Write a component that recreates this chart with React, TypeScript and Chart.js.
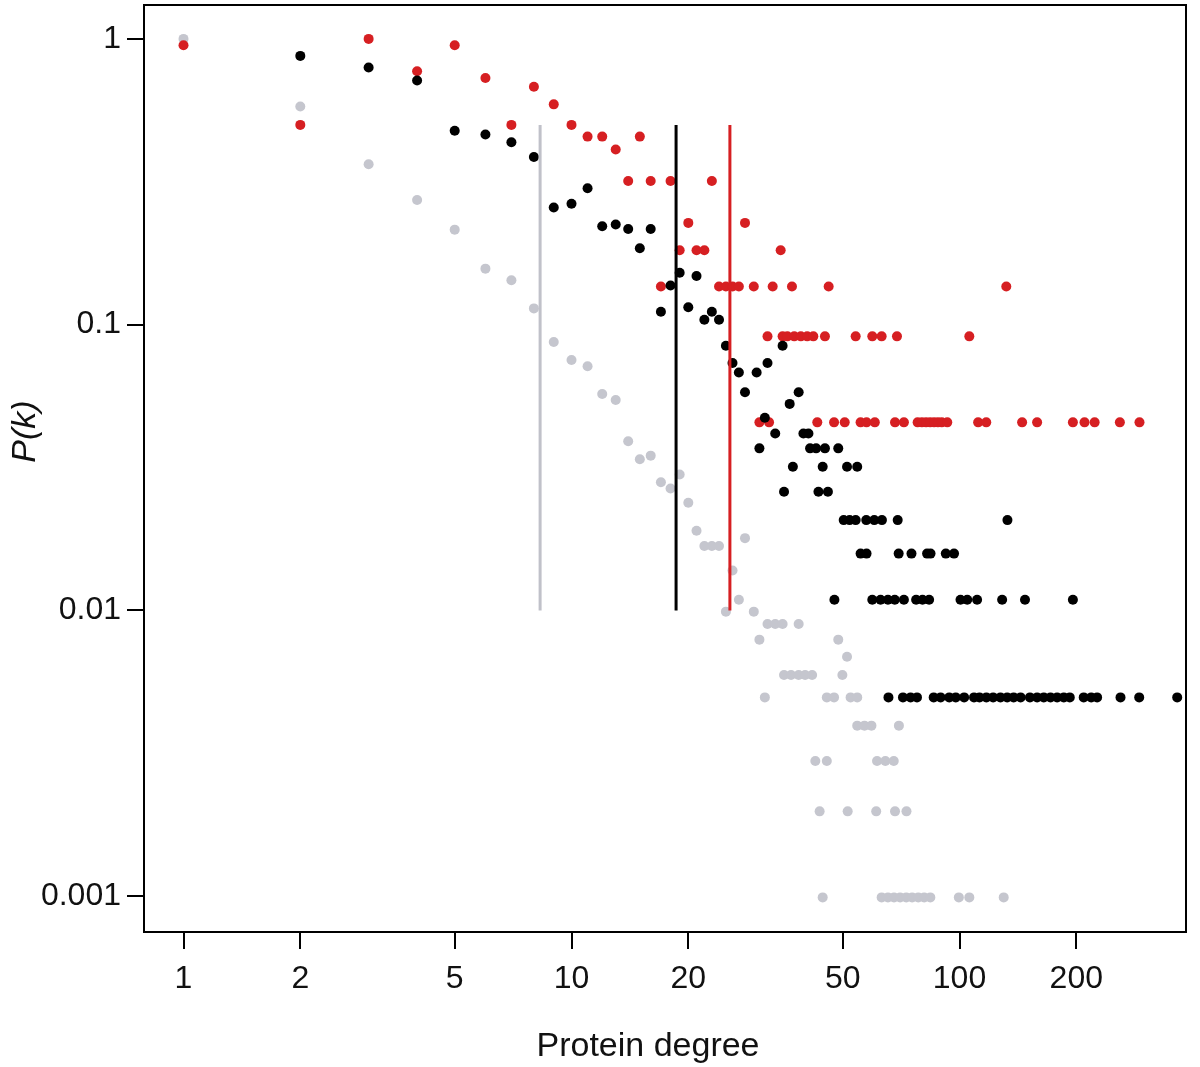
import React, { useEffect, useRef } from "react";
import { Chart, registerables } from "chart.js";

Chart.register(...registerables);

// Axis tick values
const xTickValues = [1, 2, 5, 10, 20, 50, 100, 200];
const yTickValues = [0.001, 0.01, 0.1, 1];

// Gray series: [protein degree k, P(k)]
const grayData: [number, number][] = [
  [1, 1.0], [2, 0.58], [3, 0.364], [4, 0.273], [5, 0.215], [6, 0.157], [7, 0.143],
  [8, 0.114], [9, 0.087], [10, 0.0752], [11, 0.0715], [12, 0.0572], [13, 0.0545],
  [14, 0.0391], [15, 0.0338], [16, 0.0348], [17, 0.0281], [18, 0.0267], [19, 0.0299],
  [20, 0.0238], [21, 0.019], [22, 0.0168], [23, 0.0168], [24, 0.0168], [25, 0.0099],
  [26, 0.0138], [27, 0.0109], [28, 0.0179], [29.5, 0.0099], [30.5, 0.0079],
  [32, 0.00896], [33.5, 0.00896], [35, 0.00896], [38.5, 0.00896],
  [48.7, 0.0079], [51.3, 0.00688],
  [35.3, 0.00594], [36.8, 0.00594], [38.5, 0.00594], [40, 0.00594], [41.7, 0.00594], [49.9, 0.00594],
  [31.5, 0.00496], [45.5, 0.00496], [47.5, 0.00496], [52.4, 0.00496], [54.5, 0.00496],
  [54.5, 0.00395], [56.9, 0.00395], [59.3, 0.00395], [69.8, 0.00395],
  [42.5, 0.00297], [45.5, 0.00297], [61.3, 0.00297], [64.4, 0.00297], [67.7, 0.00297],
  [43.6, 0.00198], [51.5, 0.00198], [61, 0.00198], [68.2, 0.00198], [73, 0.00198],
  [44.4, 0.00099], [63, 0.00099], [65.4, 0.00099], [67.8, 0.00099], [70.3, 0.00099],
  [72.9, 0.00099], [75.5, 0.00099], [78.3, 0.00099], [81.1, 0.00099], [84.1, 0.00099],
  [99.6, 0.00099], [106, 0.00099], [130, 0.00099],
];

// Black series: [k, P(k)]
const blackData: [number, number][] = [
  [2, 0.872], [3, 0.794], [4, 0.715], [5, 0.477], [6, 0.463], [7, 0.435], [8, 0.386],
  [9, 0.257], [10, 0.265], [11, 0.3], [12, 0.221], [13, 0.224], [14, 0.216], [15, 0.185],
  [16, 0.216], [17, 0.111], [18, 0.137], [19, 0.152], [20, 0.115], [21, 0.148],
  [22, 0.104], [23, 0.111], [24, 0.104], [25, 0.0843], [26, 0.0734], [27, 0.068],
  [28, 0.058], [30, 0.068], [32, 0.0734], [35, 0.0843],
  [31.5, 0.0472], [33.5, 0.0416], [30.5, 0.0369], [36.5, 0.0528], [38.5, 0.058],
  [39.6, 0.0416], [40.8, 0.0416], [41.2, 0.0369], [42.7, 0.0369], [45, 0.0369], [48.7, 0.0369],
  [37.2, 0.0318], [44.4, 0.0318], [51.3, 0.0318], [54.5, 0.0318],
  [35.3, 0.026], [43.3, 0.026], [45.8, 0.026],
  [50.3, 0.0207], [52.1, 0.0207], [54, 0.0207], [57.5, 0.0207], [60.3, 0.0207],
  [63.1, 0.0207], [69.3, 0.0207], [132.9, 0.0207],
  [55.6, 0.0158], [57.6, 0.0158], [69.7, 0.0158], [75.2, 0.0158], [82.5, 0.0158],
  [84.2, 0.0158], [92.2, 0.0158], [96.8, 0.0158],
  [47.6, 0.0109], [59.6, 0.0109], [62.6, 0.0109], [65.4, 0.0109], [68.1, 0.0109],
  [71.9, 0.0109], [77.3, 0.0109], [80.3, 0.0109], [83.5, 0.0109], [100.6, 0.0109],
  [104.7, 0.0109], [111, 0.0109], [128.8, 0.0109], [147.5, 0.0109], [196, 0.0109],
  [65.6, 0.00496], [71.5, 0.00496], [74.8, 0.00496], [77.7, 0.00496], [85.8, 0.00496],
  [89.4, 0.00496], [94.1, 0.00496], [97.8, 0.00496], [102.8, 0.00496], [109, 0.00496],
  [112.6, 0.00496], [117.3, 0.00496], [122.1, 0.00496], [127.5, 0.00496], [132.7, 0.00496],
  [137.9, 0.00496], [143.7, 0.00496], [151.9, 0.00496], [158.5, 0.00496], [164.9, 0.00496],
  [171.6, 0.00496], [178.5, 0.00496], [185.7, 0.00496], [192.4, 0.00496], [209, 0.00496],
  [218.5, 0.00496], [226.3, 0.00496], [260, 0.00496], [290.5, 0.00496], [364, 0.00496],
];

// Red series: [k, P(k)]
const redData: [number, number][] = [
  [1, 0.95], [2, 0.5], [3, 1.0], [4, 0.77], [5, 0.95], [6, 0.73], [7, 0.5], [8, 0.68],
  [9, 0.59], [10, 0.5], [11, 0.455], [12, 0.455], [13, 0.41], [14, 0.318], [15, 0.455],
  [16, 0.318], [17, 0.136], [18, 0.318], [19, 0.182], [20, 0.227], [21, 0.182],
  [22, 0.182], [23, 0.318], [24, 0.136], [25, 0.136], [26, 0.136], [27, 0.136],
  [28, 0.227], [29.5, 0.136], [33, 0.136], [34.6, 0.182], [37, 0.136], [46, 0.136],
  [132, 0.136],
  [32, 0.091], [35, 0.091], [36, 0.091], [37.5, 0.091], [39, 0.091], [40.5, 0.091],
  [42, 0.091], [45, 0.091], [54, 0.091], [59.6, 0.091], [63, 0.091], [69, 0.091], [106, 0.091],
  [30.5, 0.0455], [32.3, 0.0455], [43, 0.0455], [47.5, 0.0455], [50.6, 0.0455],
  [55.6, 0.0455], [57.6, 0.0455], [60.5, 0.0455], [68.2, 0.0455], [71.9, 0.0455],
  [78, 0.0455], [80, 0.0455], [82, 0.0455], [84, 0.0455], [86, 0.0455], [88, 0.0455],
  [90, 0.0455], [93, 0.0455], [111.7, 0.0455], [117.2, 0.0455], [145, 0.0455],
  [158.5, 0.0455], [196, 0.0455], [210, 0.0455], [223, 0.0455], [259, 0.0455], [291, 0.0455],
];

// Vertical reference lines (mean degree): gray, black, red
const meanLineK = [8.3, 18.6, 25.6];
const meanLineP = [0.5, 0.01];

const FONT = "'Liberation Sans', Arial, Helvetica, sans-serif";
const GRAY = "#c5c6ce";
const RED = "#d61f22";
const BLACK = "#000000";

export default function App() {
  const ref = useRef<HTMLCanvasElement>(null);

  useEffect(() => {
    const canvas = ref.current;
    if (!canvas) return;

    const toPts = (arr: [number, number][]) => arr.map(([k, p]) => ({ x: k, y: p }));
    const linePts = (k: number) => meanLineP.map((p) => ({ x: k, y: p }));

    const pointStyle = (color: string) => ({
      backgroundColor: color,
      borderColor: color,
      borderWidth: 0,
      pointRadius: 5,
      pointHoverRadius: 5,
      showLine: false,
    });
    const lineStyle = (color: string) => ({
      borderColor: color,
      backgroundColor: color,
      borderWidth: 3,
      pointRadius: 0,
      showLine: true,
      fill: false,
    });

    const framePlugin = {
      id: "frameAndTitles",
      afterDatasetsDraw(chart: any) {
        const { ctx, chartArea } = chart;
        ctx.save();
        ctx.strokeStyle = "#000";
        ctx.lineWidth = 2;
        ctx.strokeRect(chartArea.left, chartArea.top, chartArea.right - chartArea.left, chartArea.bottom - chartArea.top);
        ctx.restore();
      },
      afterDraw(chart: any) {
        const { ctx } = chart;
        ctx.save();
        ctx.fillStyle = "#111";
        ctx.font = `34px ${FONT}`;
        ctx.textAlign = "center";
        ctx.textBaseline = "alphabetic";
        ctx.fillText("Protein degree", 648, 1056);
        ctx.translate(35, 431.5);
        ctx.rotate(-Math.PI / 2);
        ctx.font = `italic 34px ${FONT}`;
        ctx.fillText("P(k)", 0, 0);
        ctx.restore();
      },
    };

    const chart = new Chart(canvas, {
      type: "scatter",
      data: {
        datasets: [
          { label: "Black mean", data: linePts(meanLineK[1]), ...lineStyle(BLACK) },
          { label: "Red mean", data: linePts(meanLineK[2]), ...lineStyle(RED) },
          { label: "Gray mean", data: linePts(meanLineK[0]), ...lineStyle("#c0c1c9") },
          { label: "Black", data: toPts(blackData), ...pointStyle(BLACK) },
          { label: "Red", data: toPts(redData), ...pointStyle(RED) },
          { label: "Gray", data: toPts(grayData), ...pointStyle(GRAY) },
        ],
      },
      options: {
        responsive: false,
        animation: false,
        events: [],
        layout: { padding: { top: 2, right: 14, left: 0, bottom: 0 } },
        plugins: {
          legend: { display: false },
          tooltip: { enabled: false },
        },
        scales: {
          x: {
            type: "logarithmic",
            position: "bottom",
            min: 0.791,
            max: 383.5,
            afterDataLimits: (s: any) => {
              s.min = 0.791;
              s.max = 383.5;
            },
            afterBuildTicks: (s: any) => {
              s.ticks = xTickValues.map((v) => ({ value: v }));
            },
            afterFit: (s: any) => {
              s.height = 135;
              s.paddingLeft = 0;
              s.paddingRight = 0;
            },
            grid: {
              drawOnChartArea: false,
              drawTicks: true,
              tickLength: 17,
              color: "#000",
              lineWidth: 2,
            },
            border: { display: false },
            ticks: {
              autoSkip: false,
              maxRotation: 0,
              minRotation: 0,
              padding: 11,
              color: "#111",
              font: { family: FONT, size: 32 },
              callback: (v: any) => String(v),
            },
          },
          y: {
            type: "logarithmic",
            position: "left",
            min: 0.000749,
            max: 1.314,
            afterDataLimits: (s: any) => {
              s.min = 0.000749;
              s.max = 1.314;
            },
            afterBuildTicks: (s: any) => {
              s.ticks = yTickValues.map((v) => ({ value: v }));
            },
            afterFit: (s: any) => {
              s.width = 144;
              s.paddingTop = 0;
              s.paddingBottom = 0;
            },
            grid: {
              drawOnChartArea: false,
              drawTicks: true,
              tickLength: 17,
              color: "#000",
              lineWidth: 2,
            },
            border: { display: false },
            ticks: {
              autoSkip: false,
              padding: 6,
              color: "#111",
              font: { family: FONT, size: 32 },
              callback: (v: any) => String(v),
            },
          },
        },
      },
      plugins: [framePlugin],
    } as any);

    return () => chart.destroy();
  }, []);

  return (
    <div style={{ position: "absolute", left: 0, top: 0, width: 1200, height: 1067, background: "#fff" }}>
      <canvas ref={ref} width={1200} height={1067} style={{ display: "block", width: 1200, height: 1067 }} />
    </div>
  );
}
